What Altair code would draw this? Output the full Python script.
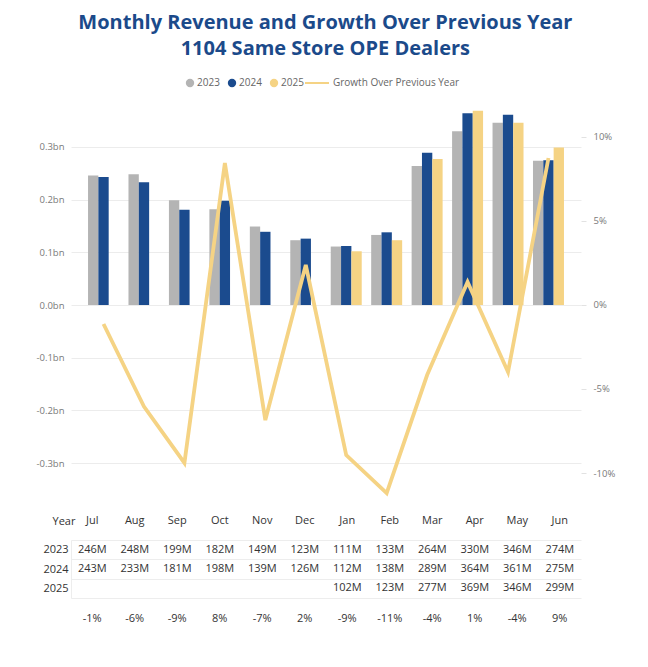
import altair as alt
import pandas as pd

# Fiscal months and revenue (in $M) per calendar year
months = ["Jul", "Aug", "Sep", "Oct", "Nov", "Dec", "Jan", "Feb", "Mar", "Apr", "May", "Jun"]
years = ["2023", "2024", "2025"]
rev_2023 = [246, 248, 199, 182, 149, 123, 111, 133, 264, 330, 346, 274]
rev_2024 = [243, 233, 181, 198, 139, 126, 112, 138, 289, 364, 361, 275]
rev_2025 = [None, None, None, None, None, None, 102, 123, 277, 369, 346, 299]
# Growth of the latest year over the previous one (%)
growth = [-1.13, -6.05, -9.4, 8.45, -6.85, 2.38, -8.93, -11.2, -4.17, 1.37, -3.99, 8.75]
growth_name = "Growth Over Previous Year"

GRAY, BLUE, GOLD = "#B4B4B4", "#1B4B8E", "#F5D384"
NAVY = "#1B4A8A"
FONT = "Open Sans"

rows = []
for yr, vals in zip(years, [rev_2023, rev_2024, rev_2025]):
    for m, v in zip(months, vals):
        if v is not None:
            rows.append({"month": m, "year": yr, "rev": v})
rev_df = pd.DataFrame(rows)
g_df = pd.DataFrame({"month": months, "growth": growth, "series": growth_name})
head_df = pd.DataFrame({"month": months, "row": "Year"})

W = 510
x_scale = alt.Scale(domain=months, paddingInner=0.234, paddingOuter=0.421)
x_enc = alt.X("month:N", sort=months, scale=x_scale, axis=None)

bars = alt.Chart(rev_df).mark_bar().encode(
    x=x_enc,
    xOffset=alt.XOffset("year:N", scale=alt.Scale(domain=years, paddingInner=0)),
    y=alt.Y(
        "rev:Q",
        scale=alt.Scale(domain=[-370.2, 389.2], nice=False, zero=False),
        axis=alt.Axis(
            values=[-300, -200, -100, 0, 100, 200, 300],
            labelExpr="(datum.value < 0 ? '-' : '') + format(abs(datum.value) / 1000, '.1f') + 'bn'",
            grid=True, gridColor="#ECECEC", domain=False, ticks=False, tickSize=0,
            labelPadding=7, labelColor="#7A7A7A", labelFontSize=9.5, labelFont=FONT, title=None,
        ),
    ),
    color=alt.Color(
        "year:N",
        scale=alt.Scale(domain=years, range=[GRAY, BLUE, GOLD]),
        legend=alt.Legend(
            orient="none", legendX=114, legendY=-22, direction="horizontal", title=None,
            symbolType="circle", symbolSize=70, symbolStrokeWidth=0, labelFontSize=10,
            labelColor="#666", labelFont=FONT, columnPadding=7, labelOffset=2, padding=0,
        ),
    ),
)

line = alt.Chart(g_df).mark_line(color=GOLD, strokeWidth=3.8).encode(
    x=x_enc,
    y=alt.Y(
        "growth:Q",
        scale=alt.Scale(domain=[-11.607, 12.202], nice=False, zero=False),
        axis=alt.Axis(
            orient="right", values=[-10, -5, 0, 5, 10],
            labelExpr="(datum.value < 0 ? '-' : '') + format(abs(datum.value), '.0f') + '%'",
            grid=False, domain=False, ticks=True, tickSize=5, tickColor="#E2E2E2",
            labelPadding=7, labelColor="#7A7A7A", labelFontSize=9.5, labelFont=FONT, title=None,
        ),
    ),
    stroke=alt.Stroke(
        "series:N",
        scale=alt.Scale(domain=[growth_name], range=[GOLD]),
        legend=alt.Legend(
            orient="none", legendX=233, legendY=-30, title=None, symbolType="stroke",
            symbolSize=576, symbolStrokeWidth=2, labelFontSize=10, labelColor="#666",
            labelFont=FONT, labelOffset=3, padding=0,
        ),
    ),
)

main = alt.layer(bars, line).resolve_scale(y="independent").properties(width=W, height=400)

# Table under the chart: header, yearly values, growth row
txt = dict(fontSize=11, color="#333", font=FONT)

header = alt.Chart(head_df).mark_text(dy=5, **txt).encode(
    x=x_enc,
    y=alt.Y("row:N", axis=alt.Axis(title=None, domain=False, ticks=False, tickSize=0,
                                   labelAlign="left", labelPadding=19, labelFontSize=11,
                                   labelColor="#333", labelFont=FONT, labelBaseline="middle",
                                   labelOffset=5)),
    text="month:N",
).properties(width=W, height=14)

values = alt.Chart(rev_df).transform_calculate(
    label="format(datum.rev, '.0f') + 'M'"
).mark_text(**txt).encode(
    x=x_enc,
    y=alt.Y("year:N", scale=alt.Scale(domain=years),
            axis=alt.Axis(title=None, domain=True, domainColor="#EDEDED", ticks=False, tickSize=0,
                          labelAlign="left", labelPadding=28, labelFontSize=11, labelColor="#333",
                          labelFont=FONT, grid=True, gridColor="#EDEDED", tickBand="extent")),
    text="label:N",
).properties(width=W, height=58)

growth_row = alt.Chart(g_df).transform_calculate(
    label="(datum.growth < 0 ? '-' : '') + format(abs(datum.growth), '.0f') + '%'"
).mark_text(**txt).encode(
    x=x_enc,
    y=alt.Y("series:N", axis=None),
    text="label:N",
).properties(width=W, height=26)

chart = alt.vconcat(main, header, values, growth_row, spacing=8).resolve_legend(
    color="independent", stroke="independent"
).properties(
    title=alt.TitleParams(
        ["Monthly Revenue and Growth Over Previous Year", "1104 Same Store OPE Dealers"],
        fontSize=20, fontWeight="bold", color=NAVY, font=FONT, anchor="middle",
        lineHeight=26, offset=11,
    ),
    padding={"left": 35, "top": 13, "right": 10, "bottom": 10},
    background="white",
).configure_view(stroke=None)

chart.save("out.html", embed_options={"renderer": "svg", "actions": False})
